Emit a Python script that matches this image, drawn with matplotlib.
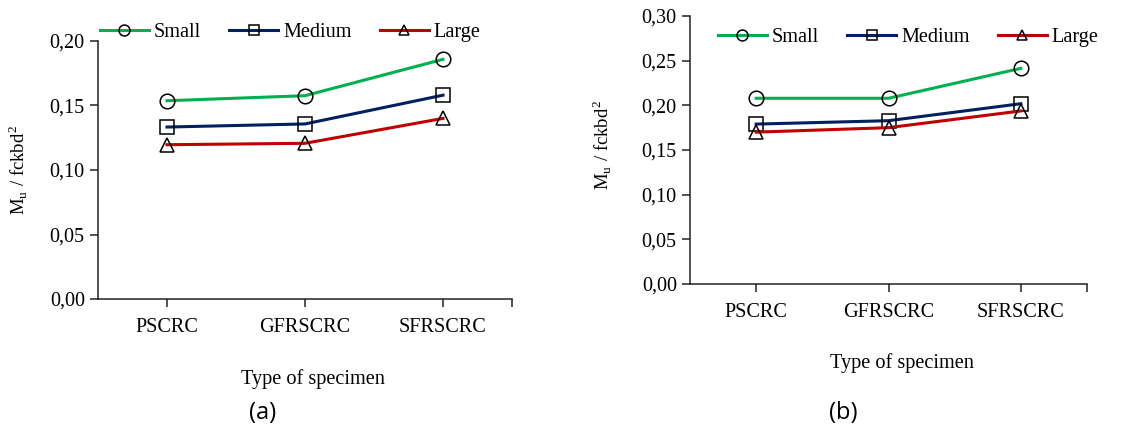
import numpy as np
import matplotlib
matplotlib.use("Agg")
from matplotlib import pyplot as plt
from matplotlib.ticker import FuncFormatter

# dane
categories = ["PSCRC", "GFRSCRC", "SFRSCRC"]
series_names = ["Small", "Medium", "Large"]

small_a = [0.1537, 0.1576, 0.1858]
medium_a = [0.1333, 0.1357, 0.1580]
large_a = [0.1196, 0.1207, 0.1400]

small_b = [0.2079, 0.2079, 0.2414]
medium_b = [0.1790, 0.1828, 0.2018]
large_b = [0.1700, 0.1750, 0.1937]

colors = ["#00B050", "#002060", "#C00000"]
markers = ["o", "s", "^"]

plt.rcParams["font.family"] = ["Liberation Serif", "DejaVu Serif"]
plt.rcParams["mathtext.fontset"] = "stix"

W, H = 1123, 428
fig = plt.figure(figsize=(W / 100, H / 100), dpi=100)
FS = 14.6


def px_axes(x0, x1, ytop, ybot):
    return fig.add_axes([x0 / W, (H - ybot) / H, (x1 - x0) / W, (ybot - ytop) / H])


def draw_panel(ax, data, ymax, leg_x, leg_y):
    x = np.arange(len(categories))
    for vals, name, c, m in zip(data, series_names, colors, markers):
        ax.plot(x, vals, color=c, lw=2.2, marker=m, ms=10.5, mfc="none",
                mec="black", mew=1.1, label=name)
    ax.set_xlim(-0.5, 2.5)
    ax.set_ylim(0, ymax)
    ax.set_yticks(np.arange(0, ymax + 0.001, 0.05))
    ax.yaxis.set_major_formatter(FuncFormatter(lambda v, p: f"{v:.2f}".replace(".", ",")))
    ax.set_xticks(x)
    ax.set_xticklabels(categories)
    ax.set_xticks([2.5], minor=True)
    ax.spines["top"].set_visible(False)
    ax.spines["right"].set_visible(False)
    for s in ("left", "bottom"):
        ax.spines[s].set_linewidth(1.1)
        ax.spines[s].set_color("#222222")
    ax.tick_params(axis="both", which="both", direction="out", length=6, width=1.1,
                   labelsize=FS, colors="#222222", labelcolor="black")
    ax.tick_params(axis="x", pad=8)
    ax.set_ylabel(r"M$_\mathregular{u}$ / fckbd$^\mathregular{2}$", fontsize=13.5)
    ax.legend(loc="center left", bbox_to_anchor=(leg_x / W, (H - leg_y) / H),
              bbox_transform=fig.transFigure, ncol=3, frameon=False, fontsize=FS,
              borderpad=0, borderaxespad=0, handlelength=2.4, handletextpad=0.25,
              columnspacing=1.4, markerscale=0.75)


ax1 = px_axes(98, 512, 41, 299)
draw_panel(ax1, [small_a, medium_a, large_a], 0.20, 100, 32)
ax1.yaxis.set_label_coords(-0.167, 0.5)

ax2 = px_axes(690, 1087, 16, 284)
draw_panel(ax2, [small_b, medium_b, large_b], 0.30, 718, 37)
ax2.yaxis.set_label_coords(-0.194, 0.52)

fig.text(313 / W, (H - 379) / H, "Type of specimen", ha="center", va="center", fontsize=FS)
fig.text(902 / W, (H - 363) / H, "Type of specimen", ha="center", va="center", fontsize=FS)
fig.text(263 / W, (H - 413) / H, "(a)", ha="center", va="center", fontsize=17,
         family=["Open Sans", "DejaVu Sans"])
fig.text(843 / W, (H - 413) / H, "(b)", ha="center", va="center", fontsize=17,
         family=["Open Sans", "DejaVu Sans"])

fig.savefig("out.png", dpi=100)
